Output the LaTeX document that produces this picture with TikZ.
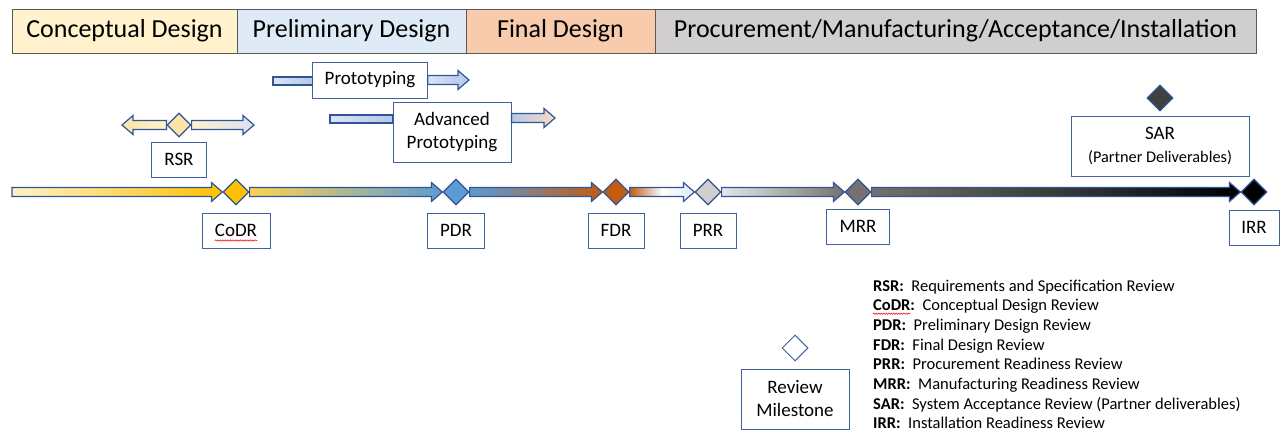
\documentclass[tikz,border=0pt]{standalone}
\usepackage{fontspec}
\setmainfont{Carlito}
\usetikzlibrary{positioning}
\usetikzlibrary{calc}
\usetikzlibrary{shapes.geometric}
\usetikzlibrary{decorations.pathmorphing}

\definecolor{hdryellow}{HTML}{FFF2CC}
\definecolor{hdrblue}{HTML}{DEEBF7}
\definecolor{hdrorange}{HTML}{F8CBAD}
\definecolor{hdrgray}{HTML}{D0CECE}
\definecolor{hdrline}{HTML}{595959}
\definecolor{arrowblue}{HTML}{2F5597}
\definecolor{boxblue}{HTML}{41619F}
\definecolor{rsrfill}{HTML}{FCE4A8}
\definecolor{codrfill}{HTML}{FFC000}
\definecolor{pdrfill}{HTML}{5B9BD5}
\definecolor{fdrfill}{HTML}{C55A11}
\definecolor{prrfill}{HTML}{D0CECE}
\definecolor{mrrfill}{HTML}{767171}
\definecolor{sarfill}{HTML}{404040}
\definecolor{paleblue}{HTML}{DAE3F3}
\definecolor{midblue}{HTML}{B4C7E7}
\definecolor{warmyellow}{HTML}{FFD34F}
\definecolor{lightgray}{HTML}{E7E6E6}

\newcommand{\blockarrow}[3]{%
  \shadedraw [arrowline, #3]
    let \p1=(#1), \p2=(#2), \p3=($(#2)!11pt!(#1)$) in
    ({\x1},{\y1+4.5pt}) -- ({\x3},{\y1+4.5pt}) -- ({\x3},{\y1+9.5pt}) -- ({\x2},{\y1})
    -- ({\x3},{\y1-9.5pt}) -- ({\x3},{\y1-4.5pt}) -- ({\x1},{\y1-4.5pt}) -- cycle;}

\begin{document}
\begin{tikzpicture}[x=1pt, y=-1pt,
    phase/.style={draw=hdrline, line width=1pt, outer sep=0pt, inner sep=0pt,
                  minimum height=44pt, font=\fontsize{26}{30}\selectfont},
    milestone/.style={diamond, draw=arrowblue, line width=1.2pt, minimum size=26pt, inner sep=0pt},
    tagbox/.style={draw=boxblue, line width=0.8pt, fill=white, inner xsep=12pt,
                   minimum height=35pt, align=center, font=\fontsize{19}{23}\selectfont},
    arrowline/.style={draw=arrowblue, line width=1.2pt},
    legend/.style={inner sep=0pt, font=\fontsize{16.5}{19}\selectfont},
    squiggle/.style={draw=red, line width=0.5pt, decorate,
                     decoration={snake, amplitude=0.7pt, segment length=2.5pt}}]

    \useasboundingbox (0,0) rectangle (1280,431);

    \node [phase, fill=hdryellow, minimum width=225pt, anchor=north west] (cd) at (12,9) {Conceptual Design};
    \node [phase, fill=hdrblue, minimum width=229pt, right=0pt of cd] (pd) {Preliminary Design};
    \node [phase, fill=hdrorange, minimum width=189pt, right=0pt of pd] (fd) {Final Design};
    \node [phase, fill=hdrgray, minimum width=601pt, right=0pt of fd] (pm) {Procurement/Manufacturing/Acceptance/Installation};

    \node [milestone, fill=rsrfill, minimum size=24pt] (rsr) at (179,125) {};
    \coordinate (rsrleft) at (122,125);
    \coordinate (rsrright) at (254,125);
    \blockarrow{rsr.west}{rsrleft}{left color=rsrfill, right color=hdryellow}
    \blockarrow{rsr.east}{rsrright}{left color=hdryellow, right color=paleblue}
    \node [tagbox, below=4pt of rsr, minimum width=55pt] (rsrl) {RSR};

    \node [tagbox, minimum width=114pt, minimum height=36pt] (proto) at (370,80) {Prototyping};
    \coordinate (protostart) at (273,77);
    \coordinate (protoend) at (469,80);
    \shadedraw [arrowline, left color=paleblue, right color=midblue] (protostart) rectangle ($(proto.west)+(0,5)$);
    \blockarrow{proto.east}{protoend}{left color=paleblue, right color=midblue}

    \node [tagbox, minimum width=118pt, minimum height=60pt] (aproto) at (452,132) {Advanced\\Prototyping};
    \coordinate (aprotostart) at (330,115);
    \coordinate (aprotoout) at ($(aproto.east)+(0,-14)$);
    \coordinate (aprotoend) at (555,118);
    \shadedraw [arrowline, left color=paleblue, right color=midblue] (aprotostart) rectangle ($(aproto.west)+(0,-9)$);
    \blockarrow{aprotoout}{aprotoend}{left color=midblue, right color=hdrorange!70}

    \coordinate (start) at (12,192);
    \node [milestone, fill=codrfill] (codr) at (236,192) {};
    \node [milestone, fill=pdrfill] (pdr) at (456,192) {};
    \node [milestone, fill=fdrfill] (fdr) at (616,192) {};
    \node [milestone, fill=prrfill] (prr) at (708,192) {};
    \node [milestone, fill=mrrfill] (mrr) at (858,192) {};
    \node [milestone, fill=black] (irr) at (1254,192) {};

    \blockarrow{start}{codr.west}{left color=hdryellow, right color=codrfill}
    \blockarrow{codr.east}{pdr.west}{left color=warmyellow, right color=pdrfill}
    \blockarrow{pdr.east}{fdr.west}{left color=pdrfill, right color=fdrfill}
    \blockarrow{fdr.east}{prr.west}{left color=fdrfill, right color=hdrblue, middle color=white}
    \blockarrow{prr.east}{mrr.west}{left color=lightgray, right color=mrrfill}
    \blockarrow{mrr.east}{irr.west}{left color=mrrfill, right color=black}

    \node [tagbox, below=7pt of codr, minimum width=68pt] (codrl) {CoDR};
    \draw [squiggle] ($(codrl.west)+(13,10)$) -- ($(codrl.east)+(-13,10)$);
    \node [tagbox, below=7pt of pdr, minimum width=57pt] (pdrl) {PDR};
    \node [tagbox, below=7pt of fdr, minimum width=56pt] (fdrl) {FDR};
    \node [tagbox, below=7pt of prr, minimum width=56pt] (prrl) {PRR};
    \node [tagbox, below=3pt of mrr, minimum width=63pt] (mrrl) {MRR};
    \node [tagbox, below=4pt of irr, minimum width=50pt] (irrl) {IRR};

    \node [milestone, fill=sarfill] (sar) at (1160,98) {};
    \node [tagbox, below=4pt of sar, minimum width=178pt, minimum height=60pt] (sarl)
          {SAR\\{\fontsize{16.3}{19}\selectfont (Partner Deliverables)}};

    \node [milestone, fill=white, draw=boxblue, line width=1pt] (rm) at (795,348) {};
    \node [tagbox, below=7pt of rm, minimum width=108pt, minimum height=60pt] (rml) {Review\\Milestone};

    \foreach \abbr/\desc [count=\i from 0] in {RSR/Requirements and Specification Review,
        CoDR/Conceptual Design Review, PDR/Preliminary Design Review,
        FDR/Final Design Review, PRR/Procurement Readiness Review,
        MRR/Manufacturing Readiness Review, SAR/System Acceptance Review (Partner deliverables),
        IRR/Installation Readiness Review}
        \node [legend, anchor=base west] (leg\i) at (873,{291+19.7*\i}) {\textbf{\abbr:}\ \ \desc};
    \draw [squiggle] ($(leg1.base west)+(0,3)$) -- ++(37,0);
\end{tikzpicture}
\end{document}
